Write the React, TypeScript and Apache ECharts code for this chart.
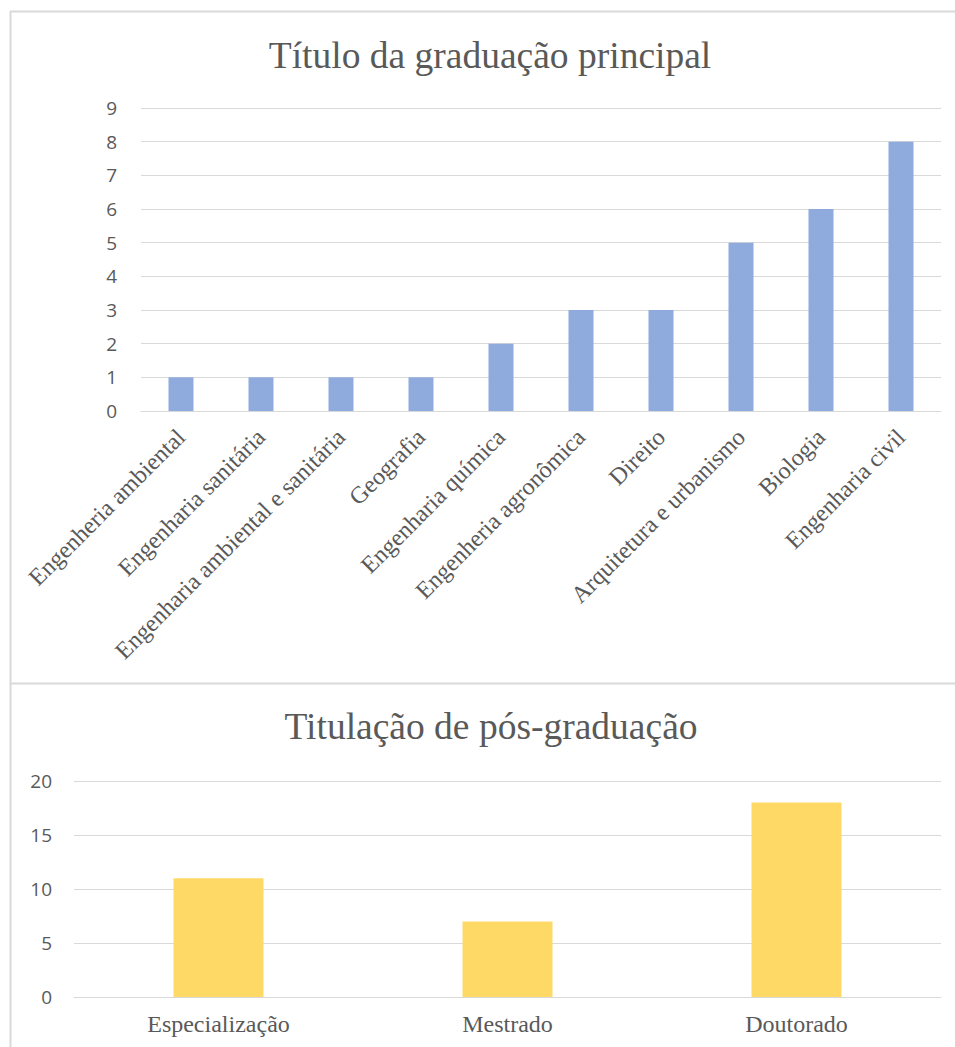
import React, { useEffect, useRef } from "react";
import * as echarts from "echarts";

const gradCategories = [
  "Engenheria ambiental",
  "Engenharia sanitária",
  "Engenharia ambiental e sanitária",
  "Geografia",
  "Engenharia química",
  "Engenheria agronômica",
  "Direito",
  "Arquitetura e urbanismo",
  "Biologia",
  "Engenharia civil",
];
const gradValues = [1, 1, 1, 1, 2, 3, 3, 5, 6, 8];

const posCategories = ["Especialização", "Mestrado", "Doutorado"];
const posValues = [11, 7, 18];

const titleTop = "Título da graduação principal";
const titleBottom = "Titulação de pós-graduação";

const SERIF = "'Liberation Serif', 'Times New Roman', serif";
const SANS = "'Open Sans', 'Noto Sans', sans-serif";
const TEXT = "#595959";
const GRID = "#d9d9d9";

export default function App() {
  const ref = useRef<HTMLDivElement>(null);
  useEffect(() => {
    if (!ref.current) return;
    const chart = echarts.init(ref.current, null, { renderer: "svg" });
    chart.setOption({
      animation: false,
      backgroundColor: "#ffffff",
      grid: [
        { left: 141, right: 14, top: 108, height: 303 },
        { left: 74, right: 14, top: 781, height: 216 },
      ],
      xAxis: [
        {
          type: "category",
          gridIndex: 0,
          data: gradCategories,
          axisTick: { show: false },
          axisLine: { lineStyle: { color: GRID, width: 1 } },
          axisLabel: {
            rotate: 45,
            interval: 0,
            margin: 22,
            color: TEXT,
            fontFamily: SERIF,
            fontSize: 24,
          },
        },
        {
          type: "category",
          gridIndex: 1,
          data: posCategories,
          axisTick: { show: false },
          axisLine: { lineStyle: { color: GRID, width: 1 } },
          axisLabel: {
            interval: 0,
            margin: 15,
            color: TEXT,
            fontFamily: SERIF,
            fontSize: 24,
          },
        },
      ],
      yAxis: [
        {
          type: "value",
          gridIndex: 0,
          min: 0,
          max: 9,
          interval: 1,
          axisLine: { show: false },
          axisTick: { show: false },
          splitLine: { lineStyle: { color: GRID, width: 1 } },
          axisLabel: { margin: 24, color: TEXT, fontFamily: SANS, fontSize: 19 },
        },
        {
          type: "value",
          gridIndex: 1,
          min: 0,
          max: 20,
          interval: 5,
          axisLine: { show: false },
          axisTick: { show: false },
          splitLine: { lineStyle: { color: GRID, width: 1 } },
          axisLabel: { margin: 22, color: TEXT, fontFamily: SANS, fontSize: 19 },
        },
      ],
      series: [
        {
          type: "bar",
          xAxisIndex: 0,
          yAxisIndex: 0,
          data: gradValues,
          barWidth: 25,
          itemStyle: { color: "#8FAADC" },
        },
        {
          type: "bar",
          xAxisIndex: 1,
          yAxisIndex: 1,
          data: posValues,
          barWidth: 90,
          itemStyle: { color: "#FFD966" },
        },
      ],
      graphic: [
        {
          type: "line",
          shape: { x1: 10.5, y1: 11, x2: 10.5, y2: 1047 },
          style: { stroke: GRID, lineWidth: 2 },
        },
        {
          type: "line",
          shape: { x1: 10, y1: 11.5, x2: 955, y2: 11.5 },
          style: { stroke: GRID, lineWidth: 2 },
        },
        {
          type: "line",
          shape: { x1: 10, y1: 683.5, x2: 955, y2: 683.5 },
          style: { stroke: GRID, lineWidth: 2 },
        },
        {
          type: "text",
          x: 490,
          y: 55,
          style: {
            text: titleTop,
            fontFamily: SERIF,
            fontSize: 37.5,
            fill: TEXT,
            align: "center",
            verticalAlign: "middle",
          },
        },
        {
          type: "text",
          x: 491,
          y: 726,
          style: {
            text: titleBottom,
            fontFamily: SERIF,
            fontSize: 37.5,
            fill: TEXT,
            align: "center",
            verticalAlign: "middle",
          },
        },
      ],
    });
    return () => chart.dispose();
  }, []);
  return (
    <div
      ref={ref}
      style={{ position: "absolute", left: 0, top: 0, width: 955, height: 1047 }}
    />
  );
}
